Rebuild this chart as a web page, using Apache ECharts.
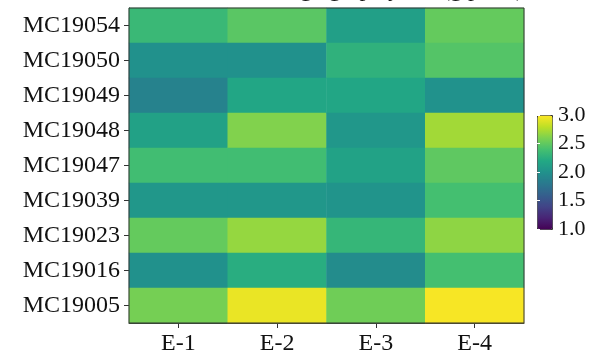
<!DOCTYPE html>
<html>
<head>
<meta charset="utf-8">
<script src="https://cdn.jsdelivr.net/npm/echarts@6/dist/echarts.min.js"></script>
<style>html,body{margin:0;padding:0;background:#fff}#c{width:593px;height:362px}</style>
</head>
<body>
<div id="c"></div>
<script>
const rows = ['MC19054','MC19050','MC19049','MC19048','MC19047','MC19039','MC19023','MC19016','MC19005'];
const cols = ['E-1','E-2','E-3','E-4'];
const e1 = [2.34, 2.00, 1.88, 2.14, 2.38, 2.05, 2.52, 2.00, 2.58];
const e2 = [2.48, 2.00, 2.18, 2.62, 2.38, 2.05, 2.68, 2.24, 2.94];
const e3 = [2.12, 2.28, 2.18, 2.05, 2.15, 2.03, 2.32, 1.96, 2.56];
const e4 = [2.52, 2.46, 2.01, 2.72, 2.50, 2.40, 2.66, 2.40, 2.98];
const colorbarTicks = [1.0, 1.5, 2.0, 2.5, 3.0];
const titleText = 'Average grape yield (g plant)';

const viridis = ['#440154','#482475','#414487','#355f8d','#2a788e','#21918c','#22a884','#44bf70','#7ad151','#bddf26','#fde725'];
const colValues = [e1, e2, e3, e4];
const data = [];
colValues.forEach((arr, ci) => arr.forEach((v, ri) => data.push([ci, ri, v])));

const font = 'Liberation Serif, Times New Roman, serif';
const chart = echarts.init(document.getElementById('c'));
chart.setOption({
  animation: false,
  title: {
    text: titleText, right: 69, top: -22, padding: 0,
    textStyle: {fontFamily: font, fontSize: 24, fontWeight: 'normal', color: '#111'}
  },
  grid: [
    {left: 129, top: 8, width: 395, height: 315, show: true, z: 10,
     backgroundColor: 'transparent', borderColor: '#333', borderWidth: 1},
    {left: 537, top: 115, width: 15, height: 114}
  ],
  xAxis: [
    {type: 'category', data: cols, gridIndex: 0, position: 'bottom',
     axisLine: {show: true, lineStyle: {color: '#333'}},
     axisTick: {show: true, alignWithLabel: true, length: 5, lineStyle: {color: '#333'}},
     axisLabel: {fontFamily: font, fontSize: 24, color: '#111', margin: 9},
     splitLine: {show: false}},
    {type: 'value', gridIndex: 1, show: false, min: 0, max: 1}
  ],
  yAxis: [
    {type: 'category', data: rows, gridIndex: 0, inverse: true,
     axisLine: {show: true, lineStyle: {color: '#333'}},
     axisTick: {show: true, alignWithLabel: true, length: 5, lineStyle: {color: '#333'}},
     axisLabel: {fontFamily: font, fontSize: 24, color: '#111', margin: 9},
     splitLine: {show: false}},
    {type: 'value', gridIndex: 1, position: 'right', min: colorbarTicks[0], max: colorbarTicks[colorbarTicks.length-1], interval: 0.5,
     axisLine: {show: false},
     axisTick: {show: true, inside: true, length: 3, lineStyle: {color: '#fff', width: 1}},
     axisLabel: {fontFamily: font, fontSize: 22, color: '#111', margin: 6, formatter: v => v.toFixed(1)},
     splitLine: {show: false}, z: 20},
    {type: 'value', gridIndex: 1, position: 'left', min: 1, max: 3, interval: 0.5,
     axisLine: {show: false},
     axisTick: {show: true, inside: true, length: 3, lineStyle: {color: '#fff', width: 1}},
     axisLabel: {show: false}, splitLine: {show: false}, z: 20}
  ],
  visualMap: {
    type: 'continuous', min: 1, max: 3, seriesIndex: 0,
    left: 537, top: 115, itemWidth: 15, itemHeight: 114, padding: 0,
    calculable: false, text: null, showLabel: false,
    borderColor: '#333', borderWidth: 1,
    inRange: {color: viridis}
  },
  series: [{
    type: 'heatmap', xAxisIndex: 0, yAxisIndex: 0, data: data,
    itemStyle: {borderWidth: 0}, emphasis: {disabled: true}
  }]
});
</script>
</body>
</html>
